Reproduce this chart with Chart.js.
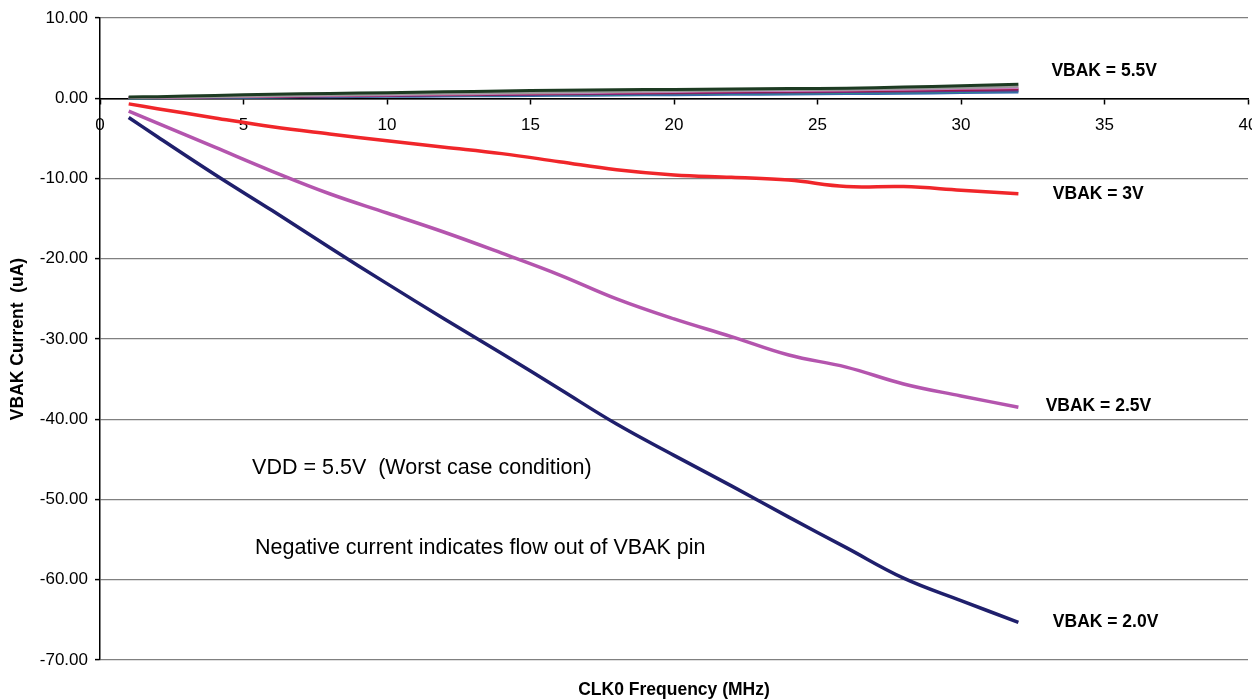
<!DOCTYPE html>
<html><head><meta charset="utf-8">
<script src="https://cdn.jsdelivr.net/npm/chart.js@4.4.0/dist/chart.umd.min.js"></script>
<style>html,body{margin:0;padding:0;background:#fff;overflow:hidden}#wrap{width:1252px;height:700px;position:relative}</style>
</head><body><div id="wrap"><canvas id="c" width="1252" height="700"></canvas></div>
<script>
// CLK0 frequency (MHz)
const freq = [1, 2, 4, 6, 8, 10, 12, 14, 16, 18, 20, 22, 24, 26, 28, 30, 32];
// VBAK current (uA)
const vbak20 = [-2.4, -4.8, -9.5, -14.0, -18.6, -23.1, -27.5, -31.8, -36.2, -40.6, -44.5, -48.3, -52.2, -56.0, -59.8, -62.6, -65.3];
const vbak25 = [-1.6, -3.1, -6.1, -9.1, -11.9, -14.3, -16.7, -19.3, -22.0, -25.0, -27.5, -29.7, -32.0, -33.5, -35.6, -37.1, -38.5];
const vbak30 = [-0.7, -1.3, -2.45, -3.55, -4.45, -5.3, -6.1, -6.9, -7.9, -8.9, -9.55, -9.85, -10.2, -11.0, -11.0, -11.45, -11.9];
const vbak55a = [0.15, 0.2, 0.35, 0.5, 0.6, 0.7, 0.8, 0.9, 1.0, 1.05, 1.1, 1.15, 1.2, 1.25, 1.4, 1.55, 1.75];
const vbak55b = [0.1, 0.12, 0.2, 0.3, 0.4, 0.5, 0.58, 0.66, 0.74, 0.82, 0.9, 0.98, 1.05, 1.1, 1.2, 1.3, 1.45];
const vbak55c = [0.08, 0.1, 0.18, 0.26, 0.34, 0.42, 0.5, 0.58, 0.66, 0.74, 0.82, 0.9, 0.95, 1.0, 1.1, 1.2, 1.3];
const vbak55d = [0.05, 0.08, 0.15, 0.22, 0.3, 0.37, 0.44, 0.5, 0.58, 0.65, 0.72, 0.8, 0.85, 0.9, 0.98, 1.05, 1.15];
const vbak55e = [0.05, 0.07, 0.13, 0.2, 0.26, 0.32, 0.38, 0.44, 0.5, 0.56, 0.62, 0.68, 0.74, 0.8, 0.86, 0.93, 1.0];
const vbak55f = [0.03, 0.05, 0.1, 0.16, 0.22, 0.27, 0.32, 0.37, 0.42, 0.47, 0.52, 0.58, 0.63, 0.68, 0.74, 0.82, 0.9];
const vbak55g = [0.02, 0.04, 0.08, 0.12, 0.17, 0.21, 0.25, 0.29, 0.33, 0.37, 0.42, 0.46, 0.5, 0.55, 0.6, 0.67, 0.75];
const xTicks = [0, 5, 10, 15, 20, 25, 30, 35, 40];
const yTicks = [10, 0, -10, -20, -30, -40, -50, -60, -70];
const xTitle = 'CLK0 Frequency (MHz)';
const yTitle = 'VBAK Current  (uA)';

const FONT = "'Liberation Sans', Arial, Helvetica, sans-serif";
const notes = [
  {text: 'VBAK = 5.5V', x: 33.15, y: 3.4, bold: true, size: 17.5},
  {text: 'VBAK = 3V', x: 33.2, y: -11.9, bold: true, size: 17.5},
  {text: 'VBAK = 2.5V', x: 32.95, y: -38.4, bold: true, size: 17.5},
  {text: 'VBAK = 2.0V', x: 33.2, y: -65.3, bold: true, size: 17.5},
  {text: 'VDD = 5.5V  (Worst case condition)', x: 5.3, y: -46.1, bold: false, size: 21.5},
  {text: 'Negative current indicates flow out of VBAK pin', x: 5.4, y: -56.0, bold: false, size: 21.5}
];

function pts(arr) { return freq.map((f, i) => ({x: f, y: arr[i]})); }
function ds(label, arr, color, w) {
  return {label, data: pts(arr), borderColor: color, backgroundColor: color, borderWidth: w,
    pointRadius: 0, fill: false, tension: 0.4, cubicInterpolationMode: 'default'};
}

const textPlugin = {
  id: 'texts',
  afterDatasetsDraw(chart) {
    const {ctx, chartArea, scales} = chart;
    ctx.save();
    ctx.fillStyle = '#000';
    ctx.textBaseline = 'middle';
    ctx.textAlign = 'left';
    notes.forEach(n => {
      ctx.font = (n.bold ? 'bold ' : '') + n.size + 'px ' + FONT;
      ctx.fillText(n.text, scales.x.getPixelForValue(n.x), scales.y.getPixelForValue(n.y));
    });
    ctx.font = 'bold 17.5px ' + FONT;
    ctx.textAlign = 'center';
    ctx.fillText(xTitle, (chartArea.left + chartArea.right) / 2, 690);
    ctx.translate(18, (chartArea.top + chartArea.bottom) / 2);
    ctx.rotate(-Math.PI / 2);
    ctx.fillText(yTitle, 0, 0);
    ctx.restore();
  }
};

new Chart(document.getElementById('c'), {
  type: 'line',
  data: {
    datasets: [
      ds('VBAK = 5.5V', vbak55a, '#1d3b22', 3),
      ds('VBAK 5.5V b', vbak55b, '#9a9a9a', 2.5),
      ds('VBAK 5.5V c', vbak55c, '#c878c0', 2.5),
      ds('VBAK 5.5V d', vbak55d, '#9b1a45', 2.5),
      ds('VBAK 5.5V e', vbak55e, '#6a2c8c', 2.5),
      ds('VBAK 5.5V f', vbak55f, '#2a8a8a', 2.5),
      ds('VBAK 5.5V g', vbak55g, '#3a62b0', 2.5),
      ds('VBAK = 3V', vbak30, '#f0262a', 3.5),
      ds('VBAK = 2.5V', vbak25, '#b455ae', 3.5),
      ds('VBAK = 2.0V', vbak20, '#1f1f6c', 3.5)
    ]
  },
  options: {
    responsive: false,
    animation: false,
    devicePixelRatio: 1,
    layout: {padding: {top: 18, right: 4, bottom: 40, left: 0}},
    plugins: {legend: {display: false}, tooltip: {enabled: false}, title: {display: false}},
    scales: {
      x: {
        type: 'linear', min: 0, max: 40, position: {y: 0},
        afterBuildTicks(s) { s.ticks = xTicks.map(v => ({value: v})); },
        afterFit(s) { s.paddingLeft = 0; s.paddingRight = 0; },
        ticks: {color: '#000', font: {family: FONT, size: 17}, padding: 12, maxRotation: 0, autoSkip: false},
        grid: {drawOnChartArea: false, drawTicks: true, tickLength: 5, tickColor: '#000', tickWidth: 1.5},
        border: {display: true, color: '#000', width: 1.5},
        title: {display: false}
      },
      y: {
        type: 'linear', min: -70, max: 10, position: 'left',
        afterBuildTicks(s) { s.ticks = yTicks.map(v => ({value: v})); },
        afterFit(s) { s.width = 100; },
        ticks: {color: '#000', font: {family: FONT, size: 17}, padding: 7, callback: v => Number(v).toFixed(2)},
        grid: {color: c => (c.tick && c.tick.value === 0) ? '#000' : '#808080', lineWidth: 1.2, drawTicks: true, tickLength: 5, tickColor: '#000', tickWidth: 1.5},
        border: {display: true, color: '#000', width: 1.5},
        title: {display: false}
      }
    }
  },
  plugins: [textPlugin]
});
</script>
</body></html>
